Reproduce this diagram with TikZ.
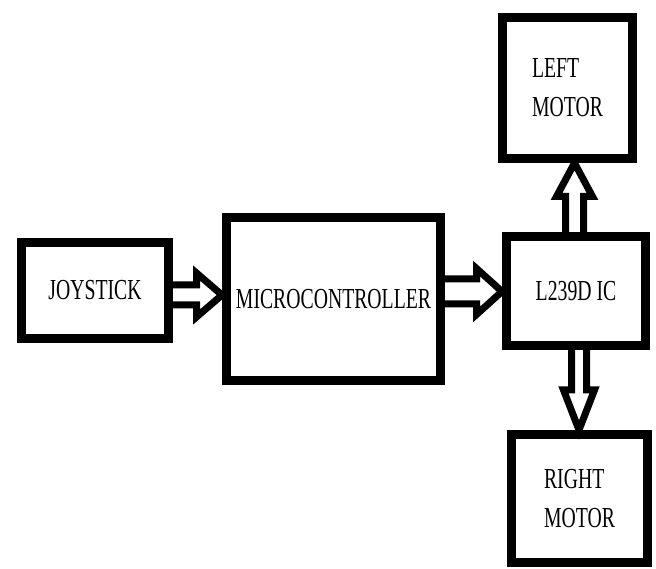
\documentclass[tikz,border=0pt]{standalone}
\usepackage{fontspec}
\newfontfamily\boxfont[FakeStretch=0.68]{Liberation Serif}
\usetikzlibrary{positioning}

\begin{document}
\begin{tikzpicture}[
      x=1pt, y=1pt,
      box/.style={draw, line width=9pt, align=center, inner sep=0pt, font=\boxfont\fontsize{29}{39}\selectfont},
      hollow/.style={draw, line width=7pt, line join=miter}
    ]
    \useasboundingbox (0,0) rectangle (656,568);
    \node[box, minimum width=147pt, minimum height=96pt] (joy) at (95,277.5) {JOYSTICK};
    \node[box, minimum width=214pt, minimum height=163pt, right=49pt of joy, yshift=-8.5pt] (mcu) {MICROCONTROLLER};
    \node[box, minimum width=139pt, minimum height=109pt, right=57pt of mcu, yshift=8pt] (ic) {L239D IC};
    \node[box, align=left, minimum width=130pt, minimum height=141pt, above=69pt of ic, xshift=-8.5pt] (lm) {LEFT\\MOTOR};
    \node[box, align=left, minimum width=136pt, minimum height=128pt, below=80pt of ic, xshift=3.5pt] (rm) {RIGHT\\MOTOR};

    % hollow arrows
    \coordinate (a1) at ([yshift=-4.5pt]joy.east);
    \coordinate (a2) at ([yshift=7.5pt]mcu.east);
    \coordinate (a3) at ([xshift=-1.5pt]ic.north);
    \coordinate (a4) at ([xshift=3pt]ic.south);

    \draw[hollow] ([yshift=10pt]a1) -- ++(23.5,0) -- ++(0,12) -- (a1 -| mcu.west)
      -- ([xshift=23.5pt,yshift=-22pt]a1) -- ++(0,12) -- ++(-23.5,0);
    \draw[hollow] ([yshift=12.5pt]a2) -- ++(31.5,0) -- ++(0,10.5) -- (a2 -| ic.west)
      -- ([xshift=31.5pt,yshift=-23pt]a2) -- ++(0,10.5) -- ++(-31.5,0);
    \draw[hollow] ([xshift=-9pt]a3) -- ++(0,35.5) -- ++(-9,0) -- (a3 |- lm.south)
      -- ([xshift=18pt,yshift=35.5pt]a3) -- ++(-9,0) -- ++(0,-35.5);
    \draw[hollow] ([xshift=-7.5pt]a4) -- ++(0,-40) -- ++(-8,0) -- (a4 |- rm.north)
      -- ([xshift=15.5pt,yshift=-40pt]a4) -- ++(-8,0) -- ++(0,40);
  \end{tikzpicture}
\end{document}
